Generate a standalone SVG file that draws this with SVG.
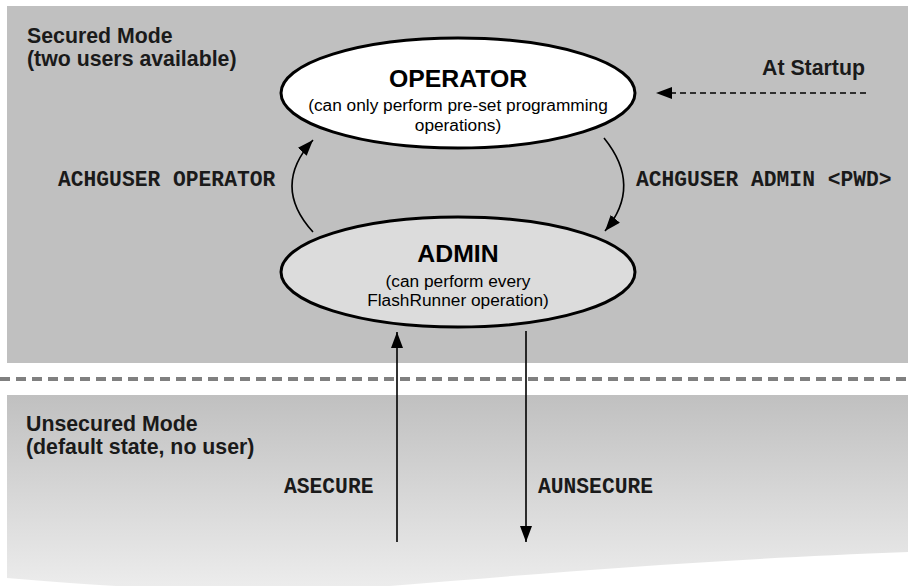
<svg xmlns="http://www.w3.org/2000/svg" width="908" height="586" viewBox="0 0 908 586">
<style>
.lbl{font-family:"Liberation Sans",Arial,sans-serif;font-weight:bold;font-size:21.3px;fill:#1a1a1a}
.title{font-family:"Liberation Sans",Arial,sans-serif;font-weight:bold;font-size:24.8px;fill:#000;text-anchor:middle}
.sub{font-family:"Liberation Sans",Arial,sans-serif;font-size:17.3px;fill:#000;text-anchor:middle}
.mono{font-family:"Liberation Mono","Courier New",monospace;font-weight:bold;font-size:21.3px;fill:#1a1a1a}
.ell{stroke:#000;stroke-width:3}
.conn{fill:none;stroke:#000;stroke-width:1.6}
</style>
<defs>
<linearGradient id="lowGrad" x1="0" y1="0" x2="0" y2="1">
<stop offset="0" stop-color="#c0c0c0"/>
<stop offset="1" stop-color="#ececec"/>
</linearGradient>
<marker id="ah" viewBox="0 0 16 12" refX="16" refY="6" markerWidth="16" markerHeight="12" markerUnits="userSpaceOnUse" orient="auto">
<path d="M0,0 L16,6 L0,12 Z" fill="#000"/>
</marker>
</defs>
<rect width="908" height="586" fill="#fff"/>
<g id="secured-zone">
<rect x="7" y="6" width="901" height="357" fill="#c0c0c0"/>
<text class="lbl" x="27" y="43">Secured Mode</text>
<text class="lbl" x="27" y="66">(two users available)</text>
</g>
<line x1="0" y1="379" x2="908" y2="379" stroke="#808080" stroke-width="4" stroke-dasharray="10,6"/>
<g id="unsecured-zone">
<path d="M7,395 L908,395 L908,552 C700,560 560,572 390,586 L116,586 C70,583 40,581 7,578 Z" fill="url(#lowGrad)"/>
<text class="lbl" x="26" y="431">Unsecured Mode</text>
<text class="lbl" x="26" y="454">(default state, no user)</text>
</g>
<g id="operator">
<ellipse class="ell" cx="458" cy="93" rx="177" ry="55" fill="#fff"/>
<text class="title" x="458" y="87">OPERATOR</text>
<text class="sub" x="458" y="111">(can only perform pre-set programming</text>
<text class="sub" x="458" y="131">operations)</text>
</g>
<g id="admin">
<ellipse class="ell" cx="458" cy="272" rx="177" ry="55" fill="#dcdcdc"/>
<text class="title" x="458" y="262">ADMIN</text>
<text class="sub" x="458" y="287">(can perform every</text>
<text class="sub" x="458" y="306">FlashRunner operation)</text>
</g>
<g id="startup">
<text class="lbl" x="762" y="75">At Startup</text>
</g>
<g id="connectors">
<line class="conn" x1="866" y1="93" x2="656" y2="93" stroke-dasharray="6,4" marker-end="url(#ah)"/>
<path class="conn" d="M313,232 Q271,186 313,140" marker-end="url(#ah)"/>
<path class="conn" d="M604,138 Q643,186 605,231" marker-end="url(#ah)"/>
<line class="conn" x1="397" y1="542" x2="397" y2="332" marker-end="url(#ah)"/>
<line class="conn" x1="526" y1="331" x2="526" y2="542" marker-end="url(#ah)"/>
<text class="mono" x="58" y="186">ACHGUSER OPERATOR</text>
<text class="mono" x="636" y="186">ACHGUSER ADMIN &lt;PWD&gt;</text>
<text class="mono" x="284" y="493">ASECURE</text>
<text class="mono" x="538" y="493">AUNSECURE</text>
</g>
</svg>
